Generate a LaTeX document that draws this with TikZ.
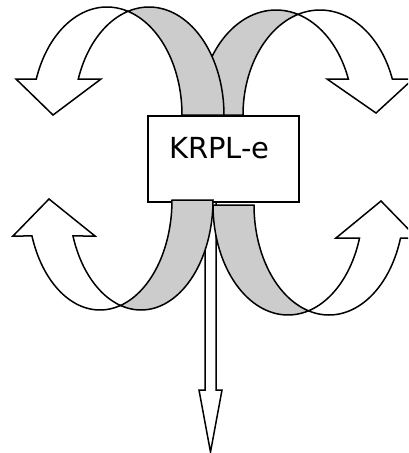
\documentclass[tikz,border=0pt]{standalone}
\usepackage{fontspec}
\newfontfamily\lblfont{DejaVu Sans}
\definecolor{bandgray}{RGB}{204,204,204}
\tikzset{
  front/.style={draw=black, fill=white, line width=1.5pt},
  back/.style={draw=black, fill=bandgray, line width=1.5pt},
  boxstyle/.style={draw=black, fill=white, line width=1.5pt, minimum width=151pt, minimum height=86pt, inner sep=0pt},
}
\begin{document}
\begin{tikzpicture}[x=1pt,y=-1pt]
\useasboundingbox (0,0) rectangle (408,453);
\clip (0,0) rectangle (408,453);
% top-right curved arrow
\path[back] plot[domain=73.4:180,samples=40,variable=\t] ({276+77*cos(\t)},{115-105*sin(\t)})
  -- plot[domain=180:106.6,samples=40,variable=\t] ({320+77*cos(\t)},{115-105*sin(\t)}) -- cycle;
\path[front] plot[domain=20.05:106.6,samples=40,variable=\t] ({320+77*cos(\t)},{115-105*sin(\t)})
  -- plot[domain=73.4:20.05,samples=40,variable=\t] ({276+77*cos(\t)},{115-105*sin(\t)})
  -- (327,79) -- (376,113) -- (413,79) -- cycle;
% top-left curved arrow
\path[back] plot[domain=73.74:0,samples=40,variable=\t] ({107+75*cos(\t)},{115-108*sin(\t)})
  -- plot[domain=0:106.26,samples=40,variable=\t] ({149+75*cos(\t)},{115-108*sin(\t)}) -- cycle;
\path[front] plot[domain=160.53:73.74,samples=40,variable=\t] ({107+75*cos(\t)},{115-108*sin(\t)})
  -- plot[domain=106.26:160.53,samples=40,variable=\t] ({149+75*cos(\t)},{115-108*sin(\t)})
  -- (101,79) -- (53,115) -- (16,79) -- cycle;
% box
\node[boxstyle] (box) at (223.5,159) {};
\node[anchor=base, inner sep=0pt] (lbl) at (219.5,158) {\lblfont\fontsize{29}{35}\selectfont KRPL-e};
% down arrow
\coordinate (dtop) at (box.south -| 210.5,0);
\path[front] (205,202) -- (205,390) -- (199,390) -- (210.5,452) -- (222,390) -- (216,390) -- (216,202) -- cycle;
% bottom-left curved arrow
\path[back] plot[domain=73.46:0,samples=40,variable=\t] ({100+72*cos(\t)},{200+110*sin(\t)})
  -- plot[domain=0:106.54,samples=40,variable=\t] ({141+72*cos(\t)},{200+110*sin(\t)}) -- cycle;
\path[front] plot[domain=160.9:73.46,samples=40,variable=\t] ({100+72*cos(\t)},{200+110*sin(\t)})
  -- plot[domain=106.54:160.9,samples=40,variable=\t] ({141+72*cos(\t)},{200+110*sin(\t)})
  -- (95,236) -- (49,199) -- (13,236) -- cycle;
% bottom-right curved arrow
\path[back] plot[domain=74.14:180,samples=40,variable=\t] ({288+75*cos(\t)},{205+110*sin(\t)})
  -- plot[domain=180:105.86,samples=40,variable=\t] ({329+75*cos(\t)},{205+110*sin(\t)}) -- cycle;
\path[front] plot[domain=17.46:105.86,samples=40,variable=\t] ({329+75*cos(\t)},{205+110*sin(\t)})
  -- plot[domain=74.14:17.46,samples=40,variable=\t] ({288+75*cos(\t)},{205+110*sin(\t)})
  -- (336,238) -- (381,201) -- (417,238) -- cycle;
\end{tikzpicture}
\end{document}
